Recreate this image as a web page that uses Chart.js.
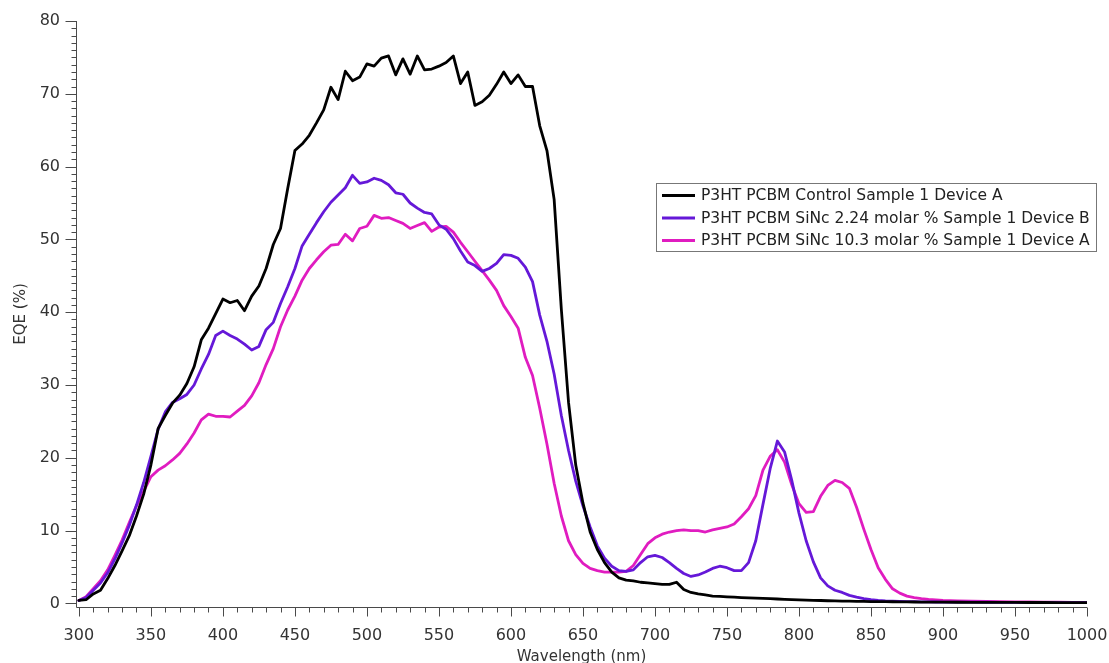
<!DOCTYPE html>
<html>
<head>
<meta charset="utf-8">
<script src="https://cdn.jsdelivr.net/npm/chart.js@4.4.1/dist/chart.umd.min.js"></script>
<style>
  html, body { margin: 0; padding: 0; background: #ffffff; }
  #wrap { width: 1109px; height: 663px; position: relative; }
</style>
</head>
<body>
<div id="wrap"><canvas id="eqe" width="1109" height="663"></canvas></div>
<script>
// Wavelength grid (nm)
const wavelengths = [
  300,305,310,315,320,325,330,335,340,345,
  350,355,360,365,370,375,380,385,390,395,
  400,405,410,415,420,425,430,435,440,445,
  450,455,460,465,470,475,480,485,490,495,
  500,505,510,515,520,525,530,535,540,545,
  550,555,560,565,570,575,580,585,590,595,
  600,605,610,615,620,625,630,635,640,645,
  650,655,660,665,670,675,680,685,690,695,
  700,705,710,715,720,725,730,735,740,745,
  750,755,760,765,770,775,780,785,790,795,
  800,805,810,815,820,825,830,835,840,845,
  850,855,860,865,870,875,880,885,890,895,
  900,
  910,920,930,940,950,960,970,980,990,1000
];

// EQE (%) — P3HT PCBM Control Sample 1 Device A
const eqeControl = [
  0.4,0.5,1.3,1.8,3.4,5.2,7.2,9.3,12.0,15.0,
  19.0,24.0,25.8,27.5,28.6,30.2,32.5,36.2,37.8,39.8,
  41.8,41.3,41.6,40.2,42.2,43.6,46.0,49.3,51.5,57.0,
  62.2,63.1,64.3,66.0,67.8,70.9,69.2,73.1,71.8,72.3,
  74.1,73.8,74.9,75.2,72.6,74.8,72.7,75.2,73.3,73.4,
  73.8,74.3,75.2,71.4,73.0,68.4,68.9,69.8,71.3,73.0,
  71.4,72.6,71.0,71.0,65.6,62.2,55.5,40.4,27.6,19.0,
  13.8,9.8,7.4,5.6,4.3,3.5,3.2,3.1,2.9,2.8,
  2.7,2.6,2.6,2.9,1.9,1.5,1.3,1.15,1.0,0.95,
  0.9,0.85,0.8,0.75,0.72,0.68,0.64,0.6,0.56,0.52,
  0.48,0.45,0.42,0.39,0.36,0.34,0.32,0.3,0.28,0.26,
  0.25,0.24,0.23,0.22,0.21,0.2,0.19,0.18,0.17,0.17,
  0.16,
  0.15,0.14,0.14,0.13,0.13,0.12,0.12,0.11,0.11,0.1
];

// EQE (%) — P3HT PCBM SiNc 2.24 molar % Sample 1 Device B
const eqeSiNc224 = [
  0.4,0.8,1.8,2.8,4.2,6.1,8.3,10.7,13.5,16.6,
  20.2,23.9,26.3,27.6,28.1,28.7,30.0,32.2,34.2,36.8,
  37.4,36.8,36.3,35.6,34.8,35.3,37.6,38.6,41.2,43.5,
  46.0,49.1,50.7,52.3,53.8,55.1,56.1,57.1,58.8,57.7,
  57.9,58.4,58.1,57.5,56.4,56.2,55.0,54.3,53.7,53.5,
  52.0,51.4,50.1,48.4,46.9,46.4,45.6,46.0,46.7,47.9,
  47.8,47.4,46.2,44.2,39.6,36.0,31.5,25.8,21.0,16.8,
  13.4,10.5,7.9,6.2,5.1,4.5,4.4,4.6,5.6,6.4,
  6.6,6.3,5.6,4.8,4.1,3.7,3.9,4.3,4.8,5.1,
  4.9,4.5,4.5,5.6,8.6,13.6,18.5,22.3,20.8,16.9,
  12.4,8.6,5.7,3.5,2.4,1.8,1.5,1.1,0.85,0.65,
  0.5,0.4,0.33,0.3,0.27,0.25,0.23,0.21,0.2,0.19,
  0.18,
  0.17,0.16,0.15,0.14,0.13,0.12,0.12,0.11,0.1,0.1
];

// EQE (%) — P3HT PCBM SiNc 10.3 molar % Sample 1 Device A
const eqeSiNc103 = [
  0.4,0.9,2.0,3.1,4.6,6.6,8.7,11.1,13.4,15.4,
  17.4,18.3,18.9,19.7,20.6,21.9,23.4,25.2,26.0,25.7,
  25.7,25.6,26.4,27.2,28.5,30.3,32.8,35.0,38.0,40.3,
  42.2,44.4,46.0,47.2,48.3,49.2,49.3,50.7,49.8,51.5,
  51.8,53.3,52.9,53.0,52.6,52.2,51.5,51.9,52.3,51.1,
  51.7,51.8,51.0,49.6,48.3,47.0,45.7,44.4,43.0,40.9,
  39.4,37.8,33.8,31.3,26.8,21.9,16.5,12.0,8.6,6.7,
  5.5,4.8,4.5,4.3,4.3,4.3,4.4,5.2,6.7,8.2,
  9.0,9.5,9.8,10.0,10.1,10.0,10.0,9.8,10.1,10.3,
  10.5,10.9,11.9,13.0,14.8,18.3,20.2,21.1,19.4,16.3,
  13.7,12.5,12.6,14.7,16.2,16.9,16.6,15.8,13.2,10.2,
  7.4,4.9,3.3,2.0,1.4,1.0,0.8,0.65,0.55,0.48,
  0.42,
  0.35,0.3,0.27,0.24,0.21,0.19,0.17,0.15,0.14,0.13
];

const seriesLabels = [
  'P3HT PCBM Control Sample 1 Device A',
  'P3HT PCBM SiNc 2.24 molar % Sample 1 Device B',
  'P3HT PCBM SiNc 10.3 molar % Sample 1 Device A'
];
const seriesColors = ['#000000', '#6518d8', '#e01cc0'];

const xTicks = [300,350,400,450,500,550,600,650,700,750,800,850,900,950,1000];
const yTicks = [0,10,20,30,40,50,60,70,80];

const FONT = '"DejaVu Sans", Verdana, sans-serif';
const AXIS_COLOR = '#4a4a4a';
const TEXT_COLOR = '#333333';

function toPoints(values) {
  return values.map((v, i) => ({ x: wavelengths[i], y: v }));
}

// Axis lines with major/minor tick marks pointing outward
const axisTicks = {
  id: 'axisTicks',
  afterDraw(chart) {
    const { ctx, chartArea, scales } = chart;
    const xs = scales.x, ys = scales.y;
    ctx.save();
    ctx.strokeStyle = AXIS_COLOR;
    ctx.lineWidth = 1;
    ctx.beginPath();
    const left = Math.round(chartArea.left) + 0.5;
    const bottom = Math.round(chartArea.bottom) + 0.5;
    ctx.moveTo(left, chartArea.top);
    ctx.lineTo(left, bottom);
    ctx.lineTo(chartArea.right, bottom);
    for (let w = 300; w <= 1000; w += 10) {
      const px = Math.round(xs.getPixelForValue(w)) + 0.5;
      const len = (w % 50 === 0) ? 9 : 5;
      ctx.moveTo(px, bottom);
      ctx.lineTo(px, bottom + len);
    }
    for (let v = 0; v <= 80; v += 1) {
      const py = Math.round(ys.getPixelForValue(v)) + 0.5;
      const len = (v % 10 === 0) ? 11 : 5;
      ctx.moveTo(left, py);
      ctx.lineTo(left - len, py);
    }
    ctx.stroke();
    ctx.restore();
  }
};

// Boxed legend placed inside the plot area
const boxLegend = {
  id: 'boxLegend',
  afterDraw(chart) {
    const { ctx } = chart;
    const box = { x: 656.5, y: 183.5, w: 440, h: 68 };
    ctx.save();
    ctx.fillStyle = '#ffffff';
    ctx.fillRect(box.x, box.y, box.w, box.h);
    ctx.strokeStyle = '#777777';
    ctx.lineWidth = 1;
    ctx.strokeRect(box.x, box.y, box.w, box.h);
    ctx.font = '15.5px ' + FONT;
    ctx.textBaseline = 'middle';
    chart.data.datasets.forEach((ds, i) => {
      const cy = 195.5 + i * 22.5;
      ctx.strokeStyle = ds.borderColor;
      ctx.lineWidth = 3;
      ctx.beginPath();
      ctx.moveTo(662, cy);
      ctx.lineTo(695, cy);
      ctx.stroke();
      ctx.fillStyle = '#222222';
      ctx.fillText(ds.label, 701, cy + 0.5);
    });
    ctx.restore();
  }
};

new Chart(document.getElementById('eqe'), {
  type: 'line',
  data: {
    datasets: [
      { label: seriesLabels[0], data: toPoints(eqeControl), borderColor: seriesColors[0] },
      { label: seriesLabels[1], data: toPoints(eqeSiNc224), borderColor: seriesColors[1] },
      { label: seriesLabels[2], data: toPoints(eqeSiNc103), borderColor: seriesColors[2] }
    ]
  },
  options: {
    responsive: false,
    animation: false,
    elements: {
      line: { borderWidth: 2.8, tension: 0, fill: false, borderJoinStyle: 'round', borderCapStyle: 'round' },
      point: { radius: 0, hoverRadius: 0 }
    },
    layout: { padding: { top: 21, right: 22, left: 0, bottom: 0 } },
    plugins: {
      legend: { display: false },
      tooltip: { enabled: false }
    },
    scales: {
      x: {
        type: 'linear',
        min: 298,
        max: 1000,
        afterFit(scale) {
          scale.height = 56;
          scale.paddingLeft = 0;
          scale.paddingRight = 0;
        },
        afterBuildTicks(scale) { scale.ticks = xTicks.map(v => ({ value: v })); },
        grid: { display: false, drawTicks: false },
        border: { display: false },
        ticks: {
          color: TEXT_COLOR,
          font: { family: FONT, size: 16 },
          padding: 19,
          maxRotation: 0,
          autoSkip: false,
          callback: v => String(v)
        },
        title: {
          display: true,
          text: 'Wavelength (nm)',
          color: TEXT_COLOR,
          font: { family: FONT, size: 15 },
          padding: { top: 0, bottom: -3 }
        }
      },
      y: {
        type: 'linear',
        min: -0.5,
        max: 80,
        afterFit(scale) {
          scale.width = 76;
          scale.paddingTop = 0;
          scale.paddingBottom = 0;
        },
        afterBuildTicks(scale) { scale.ticks = yTicks.map(v => ({ value: v })); },
        grid: { display: false, drawTicks: false },
        border: { display: false },
        ticks: {
          color: TEXT_COLOR,
          font: { family: FONT, size: 16 },
          padding: 16,
          callback: v => String(v)
        },
        title: {
          display: true,
          text: 'EQE (%)',
          color: TEXT_COLOR,
          font: { family: FONT, size: 15 },
          padding: { top: 12, bottom: 0 }
        }
      }
    }
  },
  plugins: [axisTicks, boxLegend]
});
</script>
</body>
</html>
